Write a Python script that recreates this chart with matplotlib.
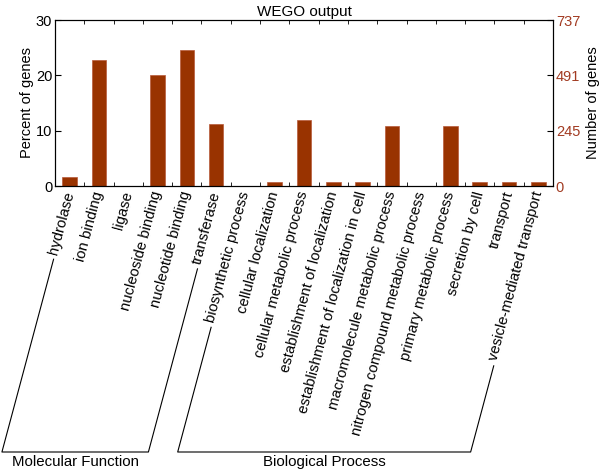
import numpy as np
import matplotlib
matplotlib.use("Agg")
import matplotlib.pyplot as plt
from matplotlib.lines import Line2D

plt.rcParams['font.family'] = ['Liberation Sans', 'DejaVu Sans']

categories = ['hydrolase', 'ion binding', 'ligase', 'nucleoside binding',
              'nucleotide binding', 'transferase', 'biosynthetic process',
              'cellular localization', 'cellular metabolic process',
              'establishment of localization', 'establishment of localization in cell',
              'macromolecule metabolic process', 'nitrogen compound metabolic process',
              'primary metabolic process', 'secretion by cell', 'transport',
              'vesicle-mediated transport']
percent = [1.7, 22.7, 0.05, 20.0, 24.5, 11.2, 0.05, 0.7, 11.9, 0.7, 0.7,
           10.9, 0.05, 10.9, 0.7, 0.7, 0.7]
right_ticks = [0, 245, 491, 737]
groups = [('Molecular Function', 0, 5), ('Biological Process', 6, 16)]

bar_color = '#993300'
tick_color = '#A23B22'
ANGLE = 75

fig = plt.figure(figsize=(6, 4.73), dpi=100)
ax = fig.add_axes([55 / 600, 1 - 186 / 473, 498 / 600, 166 / 473])
x = np.arange(len(categories))
ax.bar(x, percent, width=0.5, color=bar_color, edgecolor='#b85a3a', linewidth=0.5)
ax.set_xlim(-0.5, len(categories) - 0.5)
ax.set_ylim(0, 30)
ax.set_yticks([0, 10, 20, 30])
ax.set_ylabel('Percent of genes', fontsize=10.5, labelpad=1)
ax.set_title('WEGO output', fontsize=11, pad=3)
ax.tick_params(axis='y', direction='in', length=4, labelsize=10.5, pad=2)

ax.set_xticks(x)
ax.set_xticks(np.arange(len(categories) + 1) - 0.5, minor=True)
ax.tick_params(axis='x', which='major', length=0, pad=4)
ax.tick_params(axis='x', which='minor', direction='in', length=3, top=True, bottom=True)
ax.set_xticklabels(categories, rotation=ANGLE, ha='right', va='center',
                   rotation_mode='anchor', fontsize=10.7)

ax2 = ax.twinx()
ax2.set_ylim(0, 737)
ax2.set_yticks(right_ticks)
ax2.tick_params(axis='y', direction='in', length=4, labelsize=10.5, pad=2, labelcolor=tick_color)
ax2.set_ylabel('Number of genes', fontsize=10.5, labelpad=4)

# brackets under the rotated labels
fig.canvas.draw()
renderer = fig.canvas.get_renderer()
labels = ax.get_xticklabels()
c, s = np.cos(np.radians(ANGLE)), np.sin(np.radians(ANGLE))
base_y = 473 - 452


def label_end(lab):
    anchor = lab.get_transform().transform(lab.get_position())
    lab.set_rotation(0)
    w = lab.get_window_extent(renderer).width
    lab.set_rotation(ANGLE)
    # a little past the end of the text, nudged to the right of its midline
    return anchor - (w + 5) * np.array([c, s]) + 2 * np.array([s, -c])


inv = fig.transFigure.inverted()
for name, i0, i1 in groups:
    p0 = label_end(labels[i0])
    p1 = label_end(labels[i1])
    b0 = p0 - (p0[1] - base_y) / s * np.array([c, s])
    b1 = p1 - (p1[1] - base_y) / s * np.array([c, s])
    pts = inv.transform(np.array([p0, b0, b1, p1]))
    fig.add_artist(Line2D(pts[:, 0], pts[:, 1], color='black', linewidth=0.8))
    mid = inv.transform([(b0[0] + b1[0]) / 2, base_y - 3])
    fig.text(mid[0], mid[1], name, ha='center', va='top', fontsize=10.8)

fig.savefig('out.png', dpi=100)
